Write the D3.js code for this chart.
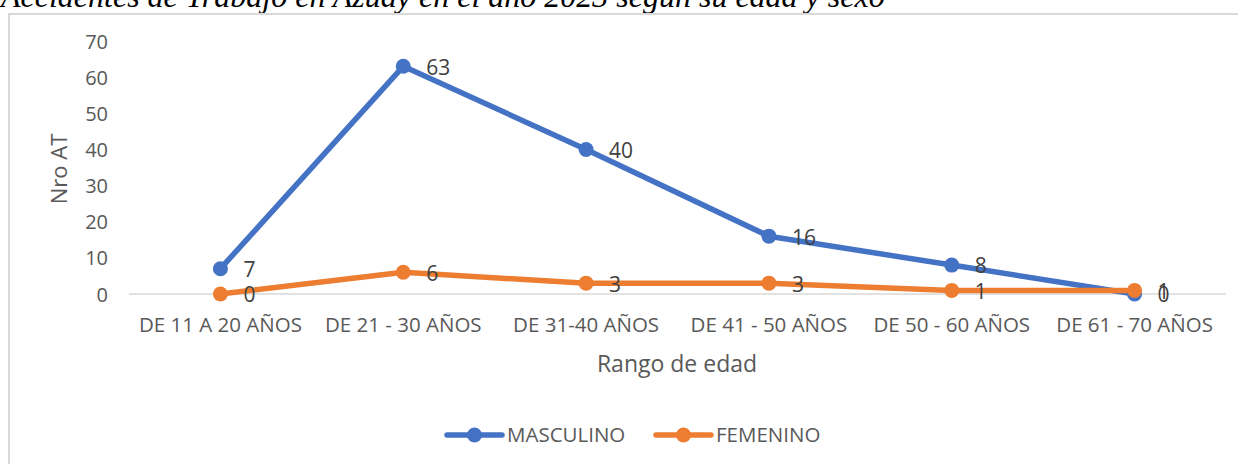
<!DOCTYPE html>
<html>
<head>
  <meta http-equiv="Content-Type" content="text/html;charset=utf-8" />
  <style type="text/css">
    body { margin: 0; background: #fff; }
    text { font-family: "Open Sans", "Liberation Sans", sans-serif; fill: #595959; }
  </style>
</head>
<body>
  <div id="svgContainer"></div>
  <script src="https://d3js.org/d3.v7.min.js"></script>
  <script type="text/javascript">
    var categories = ["DE 11 A 20 AÑOS", "DE 21 - 30 AÑOS", "DE 31-40 AÑOS", "DE 41 - 50 AÑOS", "DE 50 - 60 AÑOS", "DE 61 - 70 AÑOS"];
    var masculino = [7, 63, 40, 16, 8, 0];
    var femenino = [0, 6, 3, 3, 1, 1];
    var yTicks = [0, 10, 20, 30, 40, 50, 60, 70];
    var seriesNames = ["MASCULINO", "FEMENINO"];
    var colors = ["#4472C4", "#ED7D31"];

    var w = 1238;
    var h = 464;

    var svg = d3.select("#svgContainer")
      .append("svg")
      .attr("width", w)
      .attr("height", h);

    // title, clipped at the top like the picture
    svg.append("text")
      .attr("x", 1)
      .attr("y", 7)
      .style("font-family", "'Liberation Serif', serif")
      .style("font-style", "italic")
      .style("font-size", "32px")
      .style("fill", "#000")
      .text("Accidentes de Trabajo en Azuay en el año 2023 según su edad y sexo");

    // chart frame
    svg.append("rect")
      .attr("x", 9)
      .attr("y", 14)
      .attr("width", w + 20)
      .attr("height", h + 20)
      .attr("fill", "none")
      .attr("stroke", "#d9d9d9")
      .attr("stroke-width", 2);

    var x = d3.scaleBand().domain(categories).range([129, 1226]);
    var y = d3.scaleLinear().domain([0, 70]).range([294, 41]);

    // baseline
    svg.append("line")
      .attr("x1", 129).attr("x2", 1226)
      .attr("y1", y(0)).attr("y2", y(0))
      .attr("stroke", "#d9d9d9")
      .attr("stroke-width", 1.5);

    var yAxis = svg.append("g")
      .attr("transform", "translate(108,0)")
      .call(d3.axisLeft(y).tickValues(yTicks).tickSize(0).tickPadding(0));
    yAxis.select(".domain").remove();
    yAxis.selectAll("text").style("font-size", "20px").attr("dy", "0.35em").style("fill", "#595959");

    var xAxis = svg.append("g")
      .attr("transform", "translate(0," + y(0) + ")")
      .call(d3.axisBottom(x).tickSize(0).tickPadding(0));
    xAxis.select(".domain").remove();
    xAxis.selectAll("text").style("font-size", "20.5px").attr("y", 38).attr("dy", 0).style("fill", "#595959");

    svg.append("text")
      .attr("transform", "translate(67," + 169 + ") rotate(-90)")
      .attr("text-anchor", "middle")
      .style("font-size", "22px")
      .text("Nro AT");

    svg.append("text")
      .attr("x", 677)
      .attr("y", 372)
      .attr("text-anchor", "middle")
      .style("font-size", "23px")
      .text("Rango de edad");

    var line = d3.line()
      .x(function (d, i) { return x(categories[i]) + x.bandwidth() / 2; })
      .y(function (d) { return y(d); });

    [masculino, femenino].forEach(function (data, s) {
      var g = svg.append("g");
      g.append("path")
        .attr("d", line(data))
        .attr("stroke", colors[s])
        .attr("stroke-width", 5.5)
        .attr("stroke-linecap", "round")
        .attr("stroke-linejoin", "round")
        .attr("fill", "none");
      g.selectAll("circle")
        .data(data)
        .join("circle")
        .attr("cx", function (d, i) { return x(categories[i]) + x.bandwidth() / 2; })
        .attr("cy", function (d) { return y(d); })
        .attr("r", 7.5)
        .attr("fill", colors[s]);
    });

    [masculino, femenino].forEach(function (data, s) {
      svg.append("g").selectAll("text")
        .data(data)
        .join("text")
        .attr("x", function (d, i) { return x(categories[i]) + x.bandwidth() / 2 + 23; })
        .attr("y", function (d) { return y(d) + 1; })
        .attr("dy", "0.35em")
        .style("font-size", "21px")
        .style("fill", "#404040")
        .text(function (d) { return d; });
    });

    // legend
    var legendX = [447, 656];
    seriesNames.forEach(function (name, s) {
      var lg = svg.append("g").attr("transform", "translate(" + legendX[s] + ",435)");
      lg.append("line")
        .attr("x1", 0).attr("x2", 55)
        .attr("stroke", colors[s])
        .attr("stroke-width", 5.5)
        .attr("stroke-linecap", "round");
      lg.append("circle").attr("cx", 27.5).attr("r", 7.5).attr("fill", colors[s]);
      lg.append("text")
        .attr("x", 60)
        .attr("dy", "0.35em")
        .style("font-size", "20.5px")
        .text(name);
    });
  </script>
</body>
</html>
